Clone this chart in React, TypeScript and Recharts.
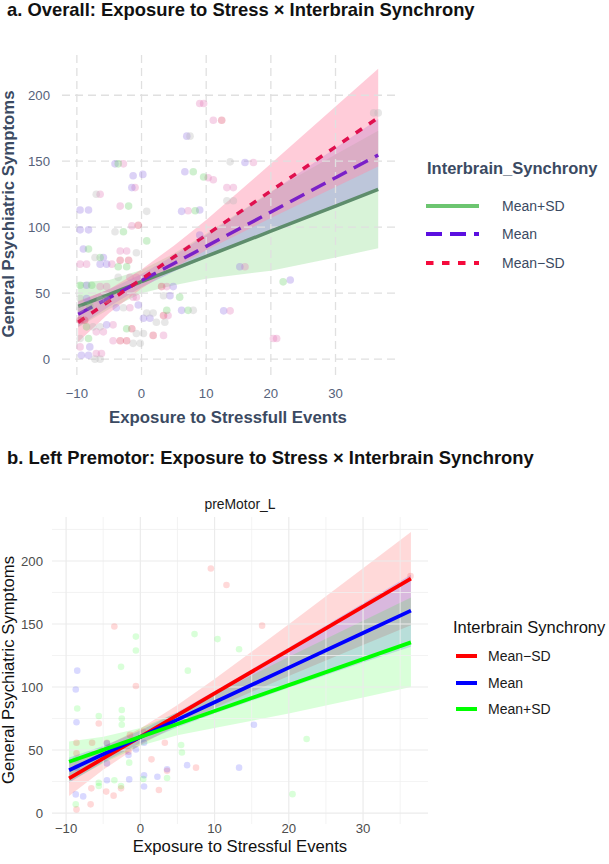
import React from 'react';
import { ComposedChart, XAxis, YAxis, Area, Line, Scatter, ReferenceLine } from 'recharts';

// ---------- panel a: overall ----------
const xRowsA = [-9.8, -5, 0, 5, 10, 20, 30, 36.6];
const fitMinusA = [28, 44, 60.7, 77.4, 94.1, 127.5, 160.9, 183];
const bandMinusLoA = [13, 35, 53.5, 69, 82.5, 107, 130.5, 146];
const bandMinusHiA = [44, 53, 68, 86, 105.5, 148, 191.5, 220];
const fitMeanA = [34, 46.5, 59.5, 72.5, 85.5, 111.5, 137.5, 154.7];
const bandMeanLoA = [24.5, 40, 54.5, 66.5, 77, 96.5, 115, 128];
const bandMeanHiA = [43.5, 53, 64.5, 78.5, 94, 126.5, 160, 182];
const fitPlusA = [40, 49, 58.7, 68.3, 77.8, 97, 116, 128.6];
const bandPlusLoA = [24, 38, 50, 56, 61, 67, 77, 84];
const bandPlusHiA = [58, 60, 67.5, 80, 95, 127, 155, 173];

const pinkPtsA: [number, number][] = [
  [9.0, 193.7], [9.6, 193.7], [11.1, 181], [-2.8, 148], [17.3, 149], [10.3, 137.5], [11.1, 136],
  [-1.0, 130], [-6.4, 125], [13.2, 130], [14.2, 130], [-3.3, 116], [7.2, 112.5], [-1.5, 101],
  [-3.3, 82], [-2.3, 82], [-9.5, 72], [-8.5, 72], [-4.6, 72], [16.0, 70], [-6.4, 55], [-5.4, 55],
  [-1.8, 62], [-0.8, 62], [3.9, 55], [-1.3, 47], [-0.8, 47], [-1.8, 39], [13.7, 36.6], [4.1, 33],
  [-5.9, 20.7], [-7.0, 20.7], [3.4, 18], [20.4, 15.7], [20.9, 15.7], [-4.4, 14], [-9.5, 9.3],
  [-7.0, 4.3], [-6.2, 4.3], [-4.4, 26],
];
const redPtsA: [number, number][] = [
  [-3.3, 75], [-2.0, 75], [3.1, 55], [-9.5, 29.5], [-8.8, 29.5], [3.4, 33], [1.8, 18], [-1.5, 23],
  [-3.3, 14], [-2.3, 14], [-0.5, 101.5], [12.4, 181],
];
const purplePtsA: [number, number][] = [
  [7.0, 169], [6.7, 142], [-1.3, 139], [0.2, 140], [-1.5, 130], [16.0, 149], [-9.5, 113], [-8.2, 113],
  [6.2, 112], [9.0, 113], [-9.5, 98], [-8.2, 98], [9.0, 94], [-9.0, 83.5], [-5.9, 77], [-6.4, 72],
  [-5.4, 72], [15.2, 70], [23.0, 60], [-8.5, 56], [4.9, 55], [4.4, 48], [-8.5, 46], [-3.9, 39],
  [-0.5, 41], [12.7, 36.6], [0.3, 31], [1.3, 31], [-5.4, 26], [-9.3, 3], [-8.2, 3], [-8.0, 9.3],
  [6.2, 37], [-4.1, 148],
];
const greenPtsA: [number, number][] = [
  [-3.6, 148], [8.0, 142], [9.6, 138], [-2.0, 116], [8.3, 112.5], [-2.8, 96.5], [0.8, 89.6],
  [-8.2, 83.5], [-6.4, 77], [-3.6, 70], [-2.3, 70], [21.9, 58.6], [-9.5, 56], [-7.7, 56], [5.9, 47],
  [-8.0, 40], [3.9, 37], [-8.5, 24.5], [-2.3, 23], [-8.2, 15.7], [7.2, 37],
];
const grayPtsA: [number, number][] = [
  [7.5, 169], [13.7, 149.5], [-7.0, 125], [13.2, 120], [14.2, 120], [0.8, 112], [-4.1, 96.5],
  [-7.2, 77], [-0.8, 80.6], [-3.6, 62], [3.4, 48], [-9.5, 46], [-6.4, 45], [-2.8, 39], [-9.5, 38],
  [0.8, 35], [1.8, 35], [2.3, 28], [3.6, 28], [-7.5, 24.5], [-6.4, 24.5], [-0.8, 19.4], [0.3, 19.4],
  [-1.3, 12], [-0.2, 12], [-9.5, 15.7], [-7.2, 0], [-6.4, 0], [35.9, 186.6], [36.6, 186.6], [8.0, 37],
  [-5.4, 45],
];

// ---------- panel b: left premotor ----------
const xRowsB = [-9.6, -5, 0, 5, 10, 20, 30, 36.45];
const fitMinusB = [27.5, 43.3, 60.5, 77.7, 94.9, 129.3, 163.8, 186];
const bandMinusLoB = [13.5, 34.3, 54, 69.7, 83.4, 108.8, 133.3, 149];
const bandMinusHiB = [41.5, 52.3, 67, 85.7, 106.4, 149.8, 194.3, 223];
const fitMeanB = [34, 46.7, 60.4, 74.1, 87.9, 115.4, 142.9, 160.6];
const bandMeanLoB = [24, 40.2, 55.4, 68.1, 78.9, 99.4, 119.4, 132];
const bandMeanHiB = [44, 53.2, 65.4, 80.1, 96.9, 131.4, 166.4, 189];
const fitPlusB = [40.7, 50.1, 60.4, 70.7, 81, 101.5, 122.1, 135.4];
const bandPlusLoB = [24.7, 39.6, 53.4, 61.7, 67.5, 79, 91.6, 100];
const bandPlusHiB = [56.7, 60.6, 67.4, 79.7, 94.5, 124, 152.6, 171];

const redPtsB: [number, number][] = [
  [9.5, 194], [11.6, 181], [-3.5, 148], [16.4, 148.7], [-0.6, 100.8], [-5.6, 71], [-8.6, 55.8],
  [-6.5, 55.8], [-4.5, 55.8], [-1.4, 62], [0.4, 64.5], [3.3, 55.8], [1.5, 42.6], [-1.6, 48.7],
  [7.5, 36], [3.6, 33.6], [-6.6, 19.6], [-4.6, 17], [-2.6, 19.6], [2.5, 18.3], [-3.6, 13.8],
  [-6.7, 6.9], [-8.6, 2.9], [-8.6, 47.4], [36.4, 188],
];
const bluePtsB: [number, number][] = [
  [-8.5, 113], [-8.7, 98], [-8.6, 72], [-4.5, 39.4], [-4.5, 26], [-1.5, 26.7], [0.5, 30], [0.5, 21],
  [2.3, 28.8], [3.6, 34.7], [6.3, 38], [15.3, 70], [13.3, 36], [-0.6, 50.5], [0.5, 55.8], [-1.6, 46],
  [-4.5, 55.3], [-8.7, 14.8], [-7.7, 13.2], [-8.6, 36],
];
const greenPtsB: [number, number][] = [
  [-0.6, 140], [-0.6, 129], [7.3, 142], [10.4, 138], [13.3, 130], [-2.6, 116], [6.4, 113], [-8.5, 83],
  [-2.5, 81.7], [-5.6, 77], [-2.5, 75], [-2.5, 70], [5.5, 54], [5.6, 48], [-1.5, 40], [3.6, 27.8],
  [-5.6, 24], [-5.6, 21.4], [-3.5, 26], [-2.6, 21.4], [0.4, 27], [22.4, 58.7], [20.5, 15], [-8.7, 6.9],
  [-8.7, 42.6],
];

const xTicks = [-10, 0, 10, 20, 30];
const yTicks = [0, 50, 100, 150, 200];
const xMinorB = [-5, 5, 15, 25, 35];
const yMinorB = [25, 75, 125, 175, 225];

const rowsA = xRowsA.map((x, i) => ({
  x,
  minus: fitMinusA[i], minusBand: [bandMinusLoA[i], bandMinusHiA[i]],
  mean: fitMeanA[i], meanBand: [bandMeanLoA[i], bandMeanHiA[i]],
  plus: fitPlusA[i], plusBand: [bandPlusLoA[i], bandPlusHiA[i]],
}));
const rowsB = xRowsB.map((x, i) => ({
  x,
  minus: fitMinusB[i], minusBand: [bandMinusLoB[i], bandMinusHiB[i]],
  mean: fitMeanB[i], meanBand: [bandMeanLoB[i], bandMeanHiB[i]],
  plus: fitPlusB[i], plusBand: [bandPlusLoB[i], bandPlusHiB[i]],
}));
const pts = (p: [number, number][]) => p.map(([x, y]) => ({ x, y }));

const FONT = '"Liberation Sans", Arial, sans-serif';
const SLATE = '#3b4a62';
const SLATE_TICK = '#56627a';
const minus = (v: number) => (v < 0 ? '\u2212' + Math.abs(v) : String(v));

const dot = (color: string, r: number, op: number, blur: boolean) => (p: any) => (
  <circle cx={p.cx} cy={p.cy} r={r} fill={color} fillOpacity={op} filter={blur ? 'url(#soft)' : undefined} />
);

function Txt({ x, y, text, size, bold, color, anchor, rotate }: any) {
  const tr = rotate
    ? 'translate(-50%, -50%) rotate(-90deg)'
    : anchor === 'middle' ? 'translate(-50%, 0)' : 'none';
  return (
    <div
      style={{
        position: 'absolute', left: x, top: rotate ? y : y - size * 0.5, fontFamily: FONT,
        fontSize: size, fontWeight: bold ? 700 : 400, color, lineHeight: 1, whiteSpace: 'nowrap',
        transform: tr,
      }}
    >
      {text}
    </div>
  );
}

function KeyLine({ x, y, w, color, dash, sw }: any) {
  return (
    <svg style={{ position: 'absolute', left: x, top: y - 5 }} width={w} height={10}>
      <line x1={0} y1={5} x2={w} y2={5} stroke={color} strokeWidth={sw} strokeDasharray={dash} />
    </svg>
  );
}

function PanelA() {
  return (
    <div style={{ position: 'absolute', left: 0, top: 0 }}>
      <ComposedChart width={420} height={440} data={rowsA} margin={{ top: 53, right: 25, bottom: 35, left: 0 }}>
        <XAxis
          type="number" dataKey="x" domain={[-12.3, 39.2]} allowDataOverflow ticks={xTicks}
          axisLine={false} tickLine={false} tickSize={6} tickMargin={8} height={30}
          tickFormatter={minus} tick={{ fill: SLATE_TICK, fontSize: 13.2, fontFamily: FONT }}
        />
        <YAxis
          type="number" dataKey="y" domain={[-12, 232]} allowDataOverflow ticks={yTicks} width={62}
          axisLine={false} tickLine={false} tickSize={6} tickMargin={6}
          tick={{ fill: SLATE_TICK, fontSize: 13.2, fontFamily: FONT }}
        />
        {xTicks.map((v) => (
          <ReferenceLine key={'x' + v} x={v} stroke="#e0e0e0" strokeWidth={1.3} strokeDasharray="8 5" />
        ))}
        {yTicks.map((v) => (
          <ReferenceLine key={'y' + v} y={v} stroke="#e0e0e0" strokeWidth={1.3} strokeDasharray="8 5" />
        ))}
        <Scatter name="pink" data={pts(pinkPtsA)} shape={dot('#e27ab8', 3.8, 0.32, true)} isAnimationActive={false} />
        <Scatter name="red" data={pts(redPtsA)} shape={dot('#dc4060', 3.8, 0.32, true)} isAnimationActive={false} />
        <Scatter name="purple" data={pts(purplePtsA)} shape={dot('#9274e2', 3.8, 0.32, true)} isAnimationActive={false} />
        <Scatter name="green" data={pts(greenPtsA)} shape={dot('#6cd06c', 3.8, 0.32, true)} isAnimationActive={false} />
        <Scatter name="gray" data={pts(grayPtsA)} shape={dot('#b4b4b4', 3.8, 0.32, true)} isAnimationActive={false} />
        <Area type="linear" dataKey="plusBand" stroke="none" fill="#8fdc8f" fillOpacity={0.35} isAnimationActive={false} />
        <Area type="linear" dataKey="meanBand" stroke="none" fill="#8b74e0" fillOpacity={0.35} isAnimationActive={false} />
        <Area type="linear" dataKey="minusBand" stroke="none" fill="#ff8fab" fillOpacity={0.45} isAnimationActive={false} />
        <Line type="linear" dataKey="plus" stroke="#5e8d6c" strokeWidth={3.5} dot={false} isAnimationActive={false} />
        <Line type="linear" dataKey="mean" stroke="#7a20c8" strokeWidth={3.5} strokeDasharray="16 8" dot={false} isAnimationActive={false} />
        <Line type="linear" dataKey="minus" stroke="#e0104e" strokeWidth={3.5} strokeDasharray="7.5 8.5" dot={false} isAnimationActive={false} />
      </ComposedChart>
    </div>
  );
}

function PanelB() {
  return (
    <div style={{ position: 'absolute', left: 0, top: 440 }}>
      <ComposedChart width={450} height={424} data={rowsB} margin={{ top: 77, right: 22, bottom: 10, left: 0 }}>
        <XAxis
          type="number" dataKey="x" domain={[-11.9, 38.75]} allowDataOverflow ticks={xTicks}
          axisLine={false} tickLine={false} tickSize={0} tickMargin={0} height={30}
          tickFormatter={minus} tick={{ fill: '#4d4d4d', fontSize: 13.2, fontFamily: FONT }}
        />
        <YAxis
          type="number" dataKey="y" domain={[-8.7, 234.9]} allowDataOverflow ticks={yTicks} width={52}
          axisLine={false} tickLine={false} tickSize={6} tickMargin={3}
          tick={{ fill: '#4d4d4d', fontSize: 13.2, fontFamily: FONT }}
        />
        {xMinorB.map((v) => (
          <ReferenceLine key={'xm' + v} x={v} stroke="#f0f0f0" strokeWidth={0.8} />
        ))}
        {yMinorB.map((v) => (
          <ReferenceLine key={'ym' + v} y={v} stroke="#f0f0f0" strokeWidth={0.8} />
        ))}
        {xTicks.map((v) => (
          <ReferenceLine key={'x' + v} x={v} stroke="#ebebeb" strokeWidth={1.2} />
        ))}
        {yTicks.map((v) => (
          <ReferenceLine key={'y' + v} y={v} stroke="#ebebeb" strokeWidth={1.2} />
        ))}
        <Scatter name="red" data={pts(redPtsB)} shape={dot('#ff0000', 3.3, 0.15, false)} isAnimationActive={false} />
        <Scatter name="blue" data={pts(bluePtsB)} shape={dot('#0000ff', 3.3, 0.15, false)} isAnimationActive={false} />
        <Scatter name="green" data={pts(greenPtsB)} shape={dot('#00ff00', 3.3, 0.15, false)} isAnimationActive={false} />
        <Area type="linear" dataKey="minusBand" stroke="none" fill="#ff0000" fillOpacity={0.15} isAnimationActive={false} />
        <Area type="linear" dataKey="meanBand" stroke="none" fill="#0000ff" fillOpacity={0.15} isAnimationActive={false} />
        <Area type="linear" dataKey="plusBand" stroke="none" fill="#00ff00" fillOpacity={0.15} isAnimationActive={false} />
        <Line type="linear" dataKey="minus" stroke="#ff0000" strokeWidth={3.8} dot={false} isAnimationActive={false} />
        <Line type="linear" dataKey="mean" stroke="#0000ff" strokeWidth={3.8} dot={false} isAnimationActive={false} />
        <Line type="linear" dataKey="plus" stroke="#00ff00" strokeWidth={3.8} dot={false} isAnimationActive={false} />
      </ComposedChart>
    </div>
  );
}

export default function App() {
  return (
    <div style={{ position: 'absolute', left: 0, top: 0, width: 609, height: 864, background: '#fff', overflow: 'hidden' }}>
      <svg width={0} height={0} style={{ position: 'absolute' }}>
        <defs>
          <filter id="soft" x="-50%" y="-50%" width="200%" height="200%">
            <feGaussianBlur stdDeviation="0.7" />
          </filter>
        </defs>
      </svg>
      <PanelA />
      <PanelB />

      <Txt x={7} y={10} text="a. Overall: Exposure to Stress × Interbrain Synchrony" size={18.4} bold color="#111" />
      <Txt x={228} y={418} text="Exposure to Stressfull Events" size={16.8} bold color={SLATE} anchor="middle" />
      <Txt x={9} y={214} text="General Psychiatric Symptoms" size={16.8} bold color={SLATE} rotate />

      <Txt x={427} y={168} text="Interbrain_Synchrony" size={16.5} bold color={SLATE} />
      <KeyLine x={426} y={206} w={53} color="#6cc570" sw={4} />
      <KeyLine x={426} y={234} w={53} color="#5b0fe0" sw={4} dash="16 8" />
      <KeyLine x={426} y={263} w={53} color="#f50a3c" sw={4} dash="7.5 8.5" />
      <Txt x={502} y={206} text="Mean+SD" size={14} color={SLATE} />
      <Txt x={502} y={234} text="Mean" size={14} color={SLATE} />
      <Txt x={502} y={263} text="Mean−SD" size={14} color={SLATE} />

      <Txt x={7} y={458} text="b. Left Premotor: Exposure to Stress × Interbrain Synchrony" size={18.4} bold color="#111" />
      <Txt x={240} y={505} text="preMotor_L" size={13.9} color="#1a1a1a" anchor="middle" />
      <Txt x={240} y={847} text="Exposure to Stressful Events" size={16.7} color="#111" anchor="middle" />
      <Txt x={9} y={670} text="General Psychiatric Symptoms" size={16.7} color="#111" rotate />

      <Txt x={453} y={627} text="Interbrain Synchrony" size={16.5} color="#111" />
      <KeyLine x={456} y={656} w={21} color="#ff0000" sw={4} />
      <KeyLine x={456} y={683} w={21} color="#0000ff" sw={4} />
      <KeyLine x={456} y={709} w={21} color="#00ff00" sw={4} />
      <Txt x={488} y={656} text="Mean−SD" size={14} color="#1a1a1a" />
      <Txt x={488} y={683} text="Mean" size={14} color="#1a1a1a" />
      <Txt x={488} y={709} text="Mean+SD" size={14} color="#1a1a1a" />
    </div>
  );
}
